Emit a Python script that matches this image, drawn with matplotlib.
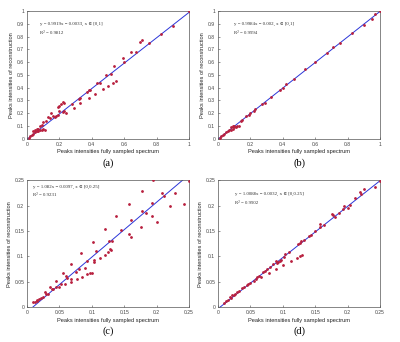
import numpy as np
import matplotlib.pyplot as plt

# panel (a)
a_x = [0.01, 0.02, 0.03, 0.04, 0.05, 0.06, 0.07, 0.08, 0.09, 0.10, 0.11, 0.04, 0.05, 0.06, 0.07, 0.08,
       0.09, 0.10, 0.12, 0.13, 0.14, 0.16, 0.15, 0.17, 0.18, 0.19, 0.20, 0.22, 0.23, 0.24, 0.19, 0.20,
       0.21, 0.22, 0.23, 0.28, 0.29, 0.32, 0.33, 0.33, 0.37, 0.38, 0.38, 0.39, 0.42, 0.43, 0.45, 0.47,
       0.49, 0.50, 0.52, 0.53, 0.54, 0.55, 0.59, 0.60, 0.64, 0.67, 0.70, 0.71, 0.75, 0.83, 0.90, 1.00]
a_y = [0.01, 0.02, 0.03, 0.04, 0.05, 0.06, 0.06, 0.07, 0.07, 0.08, 0.07, 0.06, 0.07, 0.08, 0.08, 0.10,
       0.11, 0.13, 0.14, 0.17, 0.16, 0.18, 0.20, 0.17, 0.18, 0.19, 0.22, 0.21, 0.22, 0.20, 0.25, 0.26,
       0.27, 0.29, 0.28, 0.27, 0.24, 0.31, 0.32, 0.28, 0.37, 0.38, 0.32, 0.38, 0.35, 0.44, 0.44, 0.39,
       0.50, 0.41, 0.51, 0.44, 0.57, 0.45, 0.63, 0.60, 0.68, 0.68, 0.76, 0.77, 0.75, 0.82, 0.88, 1.00]

# panel (b)
b_x = [0.01, 0.02, 0.03, 0.04, 0.05, 0.06, 0.07, 0.08, 0.09, 0.10, 0.11, 0.12, 0.13, 0.08, 0.09, 0.10,
       0.14, 0.15, 0.17, 0.19, 0.20, 0.22, 0.23, 0.27, 0.29, 0.33, 0.38, 0.40, 0.42, 0.47, 0.54, 0.60,
       0.67, 0.71, 0.75, 0.83, 0.90, 0.95, 0.97, 1.00]
b_y = [0.01, 0.02, 0.03, 0.04, 0.05, 0.06, 0.07, 0.07, 0.08, 0.09, 0.09, 0.10, 0.10, 0.09, 0.10, 0.10,
       0.14, 0.15, 0.18, 0.19, 0.20, 0.22, 0.23, 0.27, 0.28, 0.33, 0.38, 0.40, 0.43, 0.47, 0.55, 0.60,
       0.67, 0.72, 0.75, 0.83, 0.89, 0.94, 0.98, 1.00]

# panel (c)
c_x = [0.010, 0.012, 0.015, 0.016, 0.018, 0.022, 0.025, 0.028, 0.030, 0.032, 0.035, 0.038, 0.040,
       0.044, 0.045, 0.050, 0.052, 0.055, 0.058, 0.060, 0.061, 0.068, 0.068, 0.068, 0.076, 0.077,
       0.080, 0.084, 0.085, 0.090, 0.092, 0.093, 0.097, 0.100, 0.102, 0.103, 0.104, 0.107, 0.113,
       0.120, 0.120, 0.125, 0.127, 0.128, 0.129, 0.131, 0.138, 0.145, 0.157, 0.157, 0.160, 0.161,
       0.176, 0.177, 0.178, 0.184, 0.193, 0.193, 0.195, 0.200, 0.208, 0.211, 0.220, 0.229, 0.242, 0.250]
c_y = [0.010, 0.011, 0.014, 0.012, 0.016, 0.018, 0.020, 0.030, 0.026, 0.025, 0.040, 0.036, 0.035,
       0.040, 0.052, 0.040, 0.045, 0.068, 0.045, 0.062, 0.058, 0.085, 0.056, 0.050, 0.070, 0.055,
       0.075, 0.106, 0.060, 0.077, 0.065, 0.090, 0.067, 0.068, 0.128, 0.088, 0.093, 0.110, 0.096,
       0.153, 0.103, 0.108, 0.130, 0.115, 0.112, 0.130, 0.179, 0.151, 0.204, 0.145, 0.139, 0.171,
       0.158, 0.228, 0.190, 0.185, 0.205, 0.180, 0.250, 0.168, 0.224, 0.218, 0.199, 0.224, 0.203, 0.248]

# panel (d)
d_x = [0.010, 0.013, 0.015, 0.018, 0.020, 0.022, 0.025, 0.027, 0.030, 0.033, 0.037, 0.040, 0.045,
       0.047, 0.050, 0.055, 0.058, 0.060, 0.064, 0.066, 0.070, 0.073, 0.076, 0.078, 0.081, 0.085,
       0.089, 0.090, 0.091, 0.092, 0.095, 0.097, 0.101, 0.102, 0.104, 0.110, 0.113, 0.122, 0.123,
       0.127, 0.127, 0.128, 0.130, 0.132, 0.140, 0.143, 0.150, 0.157, 0.157, 0.163, 0.176, 0.178,
       0.180, 0.186, 0.193, 0.195, 0.200, 0.203, 0.212, 0.219, 0.220, 0.225, 0.243, 0.250]
d_y = [0.009, 0.012, 0.014, 0.019, 0.018, 0.023, 0.024, 0.026, 0.030, 0.032, 0.037, 0.040, 0.044,
       0.045, 0.048, 0.052, 0.055, 0.060, 0.062, 0.060, 0.070, 0.072, 0.075, 0.068, 0.080, 0.085,
       0.076, 0.090, 0.086, 0.088, 0.090, 0.092, 0.083, 0.099, 0.104, 0.108, 0.090, 0.096, 0.124,
       0.126, 0.100, 0.130, 0.102, 0.132, 0.140, 0.143, 0.150, 0.164, 0.158, 0.162, 0.184, 0.182,
       0.178, 0.186, 0.193, 0.200, 0.195, 0.202, 0.215, 0.227, 0.222, 0.232, 0.237, 0.248]

slopes = [0.9919, 0.9984, 1.082, 1.0088]
intercepts = [-0.0033, -0.002, -0.0097, -0.0032]
eq_texts = ["y = 0.9919x \u2212 0.0033, x \u2208 [0,1]", "y = 0.9984x \u2212 0.002, x \u2208 [0,1]",
            "y = 1.082x \u2212 0.0097, x \u2208 [0,0.25]", "y = 1.0088x \u2212 0.0032, x \u2208 [0,0.25]"]
r2_texts = ["R\u00b2 = 0.9812", "R\u00b2 = 0.9994", "R\u00b2 = 0.9231", "R\u00b2 = 0.9902"]
panel_labels = ["(a)", "(b)", "(c)", "(d)"]
limits = [1.0, 1.0, 0.25, 0.25]
text_pos = [(0.08, 0.90, 0.83), (0.10, 0.90, 0.83), (0.01, 0.237, 0.22), (0.026, 0.222, 0.205)]

plt.rcParams['font.family'] = 'Liberation Sans'
serif = ['Liberation Serif', 'DejaVu Serif']

fig = plt.figure(figsize=(4.0, 3.42), dpi=100)
rects = [[0.0675, 0.594, 0.405, 0.374], [0.545, 0.594, 0.405, 0.374],
         [0.0675, 0.102, 0.405, 0.371], [0.545, 0.102, 0.405, 0.371]]
data = [(a_x, a_y), (b_x, b_y), (c_x, c_y), (d_x, d_y)]

for i in range(4):
    ax = fig.add_axes(rects[i])
    lim = limits[i]
    xs, ys = data[i]
    line_x = np.array([0, lim])
    ax.plot(line_x, slopes[i] * line_x + intercepts[i], color='#2b35d8', lw=0.7, zorder=2)
    ax.plot(xs, ys, '.', color='#b8203f', ms=2.0, zorder=3)
    ax.set_xlim(0, lim)
    ax.set_ylim(0, lim)
    if lim == 1.0:
        ax.set_xticks(np.arange(0, 1.01, 0.2))
        ax.set_xticklabels(["0", "0.2", "0.4", "0.6", "0.8", "1"])
        ax.set_yticks(np.arange(0, 1.01, 0.1))
        ax.set_yticklabels(["0", "0.1", "0.2", "0.3", "0.4", "0.5", "0.6", "0.7", "0.8", "0.9", "1"])
    else:
        ticks = np.arange(0, 0.251, 0.05)
        labels = ["0", "0.05", "0.1", "0.15", "0.2", "0.25"]
        ax.set_xticks(ticks)
        ax.set_xticklabels(labels)
        ax.set_yticks(ticks)
        ax.set_yticklabels(labels)
    ax.tick_params(direction='in', length=1.5, width=0.4, labelsize=3.6, colors='#444444', pad=2)
    for s in ax.spines.values():
        s.set_linewidth(0.5)
        s.set_color('#555555')
    ax.set_xlabel("Peaks intensities fully sampled spectrum", fontsize=4.1, color='#222222', labelpad=2)
    ax.set_ylabel("Peaks intensities of reconstruction", fontsize=4.1, color='#222222', labelpad=2)
    tx, ty1, ty2 = text_pos[i]
    ax.text(tx, ty1, eq_texts[i], fontsize=3.5, color='#333333', va='center', family=serif)
    ax.text(tx, ty2, r2_texts[i], fontsize=3.5, color='#333333', va='center', family=serif)
    ax.text(0.5, -0.19, panel_labels[i], transform=ax.transAxes, ha='center', va='center',
            fontsize=7.5, family=serif)

fig.savefig("out.png", dpi=100, facecolor='white')
